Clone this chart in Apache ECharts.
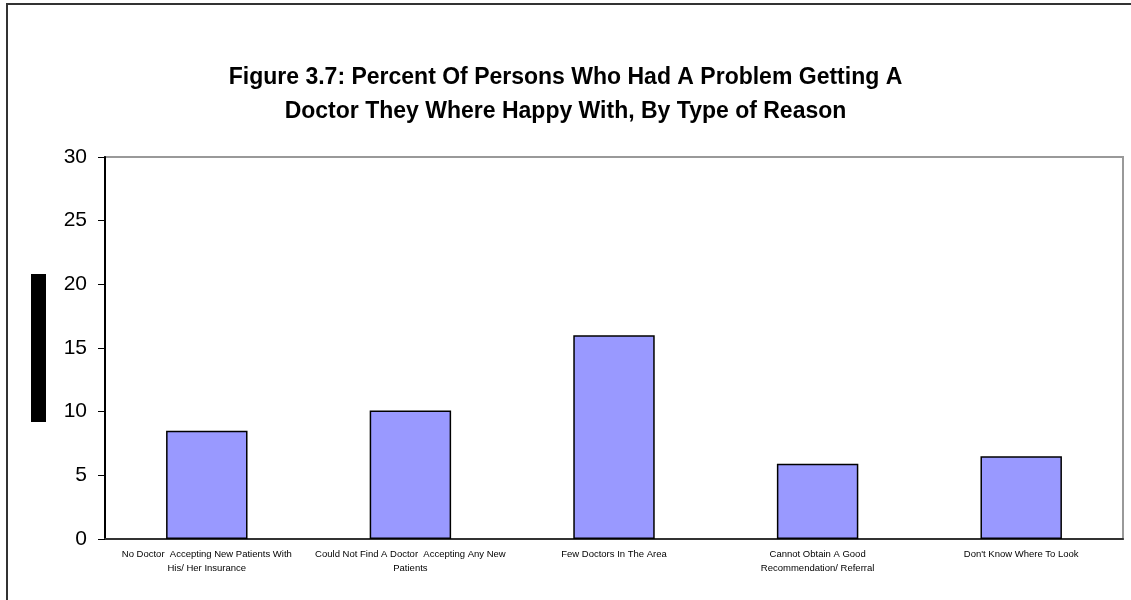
<!DOCTYPE html>
<html>
<head>
<meta charset="utf-8">
<script src="https://cdn.jsdelivr.net/npm/echarts@6/dist/echarts.min.js"></script>
<style>
  html, body { margin: 0; padding: 0; background: #fff; }
  #chart { width: 1131px; height: 600px; }
</style>
</head>
<body>
<div id="chart"></div>
<script>
// reasons (x axis) and percent values
var reasons = [
  'No Doctor  Accepting New Patients With\nHis/ Her Insurance',
  'Could Not Find A Doctor  Accepting Any New\nPatients',
  'Few Doctors In The Area',
  'Cannot Obtain A Good\nRecommendation/ Referral',
  "Don't Know Where To Look"
]
var percents = [8.5, 10.1, 16.0, 5.9, 6.5]
var yTicks = [0, 5, 10, 15, 20, 25, 30]

var myChart = echarts.init(document.getElementById('chart'))
myChart.setOption({
  animation: false,
  backgroundColor: '#fff',
  title: {
    text: 'Figure 3.7: Percent Of Persons Who Had A Problem Getting A\nDoctor They Where Happy With, By Type of Reason',
    left: 'center',
    top: 56,
    textStyle: {
      fontFamily: 'Liberation Sans',
      fontWeight: 'bold',
      fontSize: 23,
      lineHeight: 34,
      color: '#000'
    }
  },
  graphic: [
    // outer frame (runs off the right / bottom edge)
    { type: 'rect', shape: { x: 7, y: 4, width: 1140, height: 620 },
      style: { fill: 'none', stroke: '#333', lineWidth: 2 }, silent: true },
    // black box where the y axis title would be
    { type: 'rect', shape: { x: 31, y: 274, width: 15, height: 148 },
      style: { fill: '#000' }, silent: true }
  ],
  grid: {
    left: 105, right: 8, top: 157, bottom: 61,
    show: true,
    borderColor: '#999',
    borderWidth: 2
  },
  xAxis: {
    type: 'category',
    data: reasons,
    axisLine: { lineStyle: { color: '#333', width: 2 } },
    axisTick: { show: false },
    axisLabel: {
      interval: 0,
      fontFamily: 'Liberation Sans',
      fontSize: 9.5,
      lineHeight: 14,
      color: '#000',
      margin: 8
    }
  },
  yAxis: {
    type: 'value',
    min: yTicks[0],
    max: yTicks[yTicks.length - 1],
    interval: 5,
    splitLine: { show: false },
    axisLine: { show: true, lineStyle: { color: '#000', width: 2 } },
    axisTick: { show: true, length: 7, lineStyle: { color: '#000' } },
    axisLabel: {
      fontFamily: 'Liberation Sans',
      fontSize: 21,
      color: '#000',
      margin: 18
    }
  },
  series: [{
    type: 'bar',
    data: percents,
    barWidth: '40%',
    itemStyle: { color: '#9999ff', borderColor: '#000', borderWidth: 1.5 }
  }]
}, true)
</script>
</body>
</html>
